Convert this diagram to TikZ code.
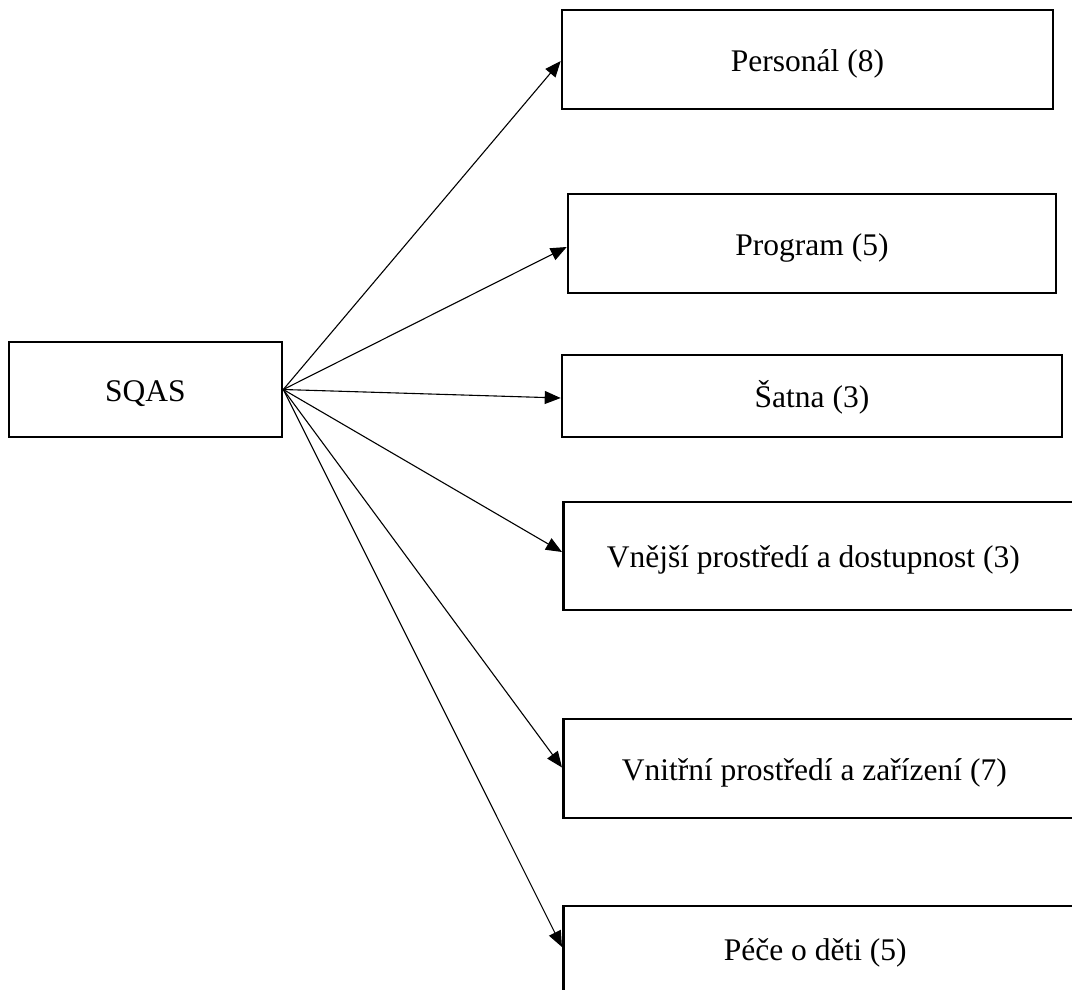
\documentclass[tikz,border=0pt]{standalone}
\usepackage{fontspec}
\setmainfont{Liberation Serif}
\usetikzlibrary{arrows.meta}
\begin{document}
\begin{tikzpicture}[x=1pt,y=1pt,
  box/.style={draw, line width=2.6pt, rectangle, inner sep=0pt,
    text height=23pt, text depth=0pt, font=\fontsize{31.5}{36}\selectfont},
  conn/.style={line width=1.1pt, -{Triangle[length=16pt,width=13pt]}}]
\useasboundingbox (0,0) rectangle (1072,-989);
\clip (0,0) rectangle (1072,-989);

% root
\node[box, minimum width=273pt, minimum height=95pt] (S) at (145.5,-389.5) {SQAS};

% categories
\node[box, minimum width=491pt, minimum height=99pt] (P) at (807.5,-59.5) {Personál (8)};
\node[box, minimum width=488pt, minimum height=99pt] (G) at (812,-243.5) {Program (5)};
\node[box, minimum width=500pt, minimum height=82pt] (T) at (812,-396) {Šatna (3)};
\node[box, anchor=west, minimum width=530pt, minimum height=108pt] (E) at (562,-556)
  {\makebox[500pt]{Vnější prostředí a dostupnost (3)}\kern30pt};
\node[box, anchor=west, minimum width=530pt, minimum height=99pt] (I) at (562,-768.5)
  {\makebox[502pt]{Vnitřní prostředí a zařízení (7)}\kern28pt};
\node[box, anchor=west, minimum width=530pt, minimum height=85pt] (C) at (562,-948.5)
  {\makebox[504pt]{Péče o děti (5)}\kern26pt};

% connectors
\draw[conn] (S.east) -- ([yshift=-1.5pt]P.west);
\draw[conn] (S.east) -- ([yshift=-3.5pt]G.west);
\draw[conn] (S.east) -- ([yshift=-2pt]T.west);
\draw[conn] (S.east) -- ([yshift=4pt]E.west);
\draw[conn] (S.east) -- ([yshift=1pt]I.west);
\draw[conn] (S.east) -- ([yshift=1.5pt]C.west);
\end{tikzpicture}
\end{document}
